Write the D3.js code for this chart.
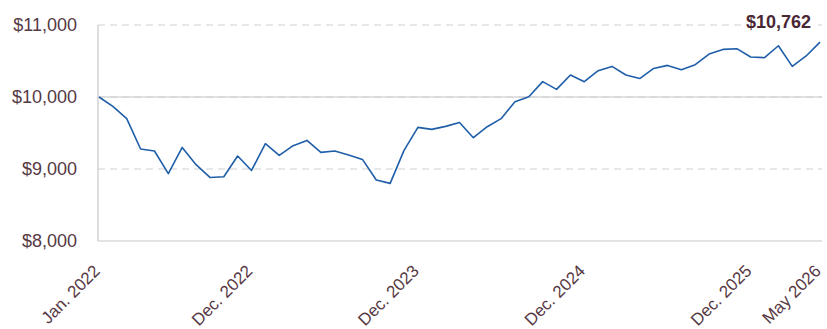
<!DOCTYPE html>
<html>
<head>
<meta charset="utf-8">
<script src="https://cdn.jsdelivr.net/npm/d3@7"></script>
<style>
  html, body { margin: 0; padding: 0; background: #fff; }
  svg { display: block; font-family: "Liberation Sans", Arial, Helvetica, sans-serif; }
</style>
</head>
<body>
<svg id="chart" width="827" height="329"></svg>
<script>
// Growth of $10,000, month-end values from Jan. 2022 to May 2026
const startMonth = new Date(2022, 0, 1);
const values = [
  10000, 9869, 9699, 9278, 9250, 8935, 9300, 9060, 8883, 8893, 9180, 8980,
  9351, 9189, 9324, 9397, 9231, 9250, 9194, 9133, 8847, 8800, 9259, 9578,
  9550, 9592, 9647, 9435, 9587, 9699, 9935, 10004, 10213, 10106, 10306, 10213,
  10365, 10425, 10306, 10256, 10397, 10439, 10379, 10449, 10597, 10661, 10671, 10556,
  10546, 10712, 10425, 10570, 10762
];
const months = values.map((_, i) => d3.timeMonth.offset(startMonth, i));

const xTickIndex = [0, 11, 23, 35, 47, 52];
const xTickLabels = ["Jan. 2022", "Dec. 2022", "Dec. 2023", "Dec. 2024", "Dec. 2025", "May 2026"];
const yTicks = [8000, 9000, 10000, 11000];
const endLabel = "$10,762";

const svg = d3.select("#chart");
const textColor = "#573944";

const x = d3.scaleLinear().domain([0, values.length - 1]).range([99, 820]);
const y = d3.scaleLinear().domain([8000, 11000]).range([241, 25]);
const gridRight = 822;

const fmt = d => "$" + d3.format(",")(d);

// horizontal grid
const grid = svg.append("g");
yTicks.forEach(t => {
  if (t === 8000) {
    grid.append("line").attr("x1", 98).attr("x2", gridRight)
      .attr("y1", y(t)).attr("y2", y(t))
      .attr("stroke", "#c8c8c8").attr("stroke-width", 1.2);
  } else {
    if (t === 10000) {
      grid.append("line").attr("x1", 98).attr("x2", gridRight)
        .attr("y1", y(t)).attr("y2", y(t))
        .attr("stroke", "#e2e2e2").attr("stroke-width", 2.2);
    }
    grid.append("line").attr("x1", 98).attr("x2", gridRight)
      .attr("y1", y(t)).attr("y2", y(t))
      .attr("stroke", "#cfcfcf").attr("stroke-width", 1.2)
      .attr("stroke-dasharray", "7,5");
  }
});

// left axis line
svg.append("line").attr("x1", 98).attr("x2", 98)
  .attr("y1", y(11000)).attr("y2", y(8000))
  .attr("stroke", "#c8c8c8").attr("stroke-width", 1.2);

// y labels
svg.append("g").selectAll("text").data(yTicks).join("text")
  .attr("x", 77).attr("y", d => y(d)).attr("dy", "0.35em")
  .attr("text-anchor", "end")
  .attr("font-size", 18).attr("fill", textColor)
  .text(fmt);

// x labels
svg.append("g").selectAll("text").data(xTickIndex).join("text")
  .attr("transform", d => `translate(${x(d) + 2},272) rotate(-45)`)
  .attr("text-anchor", "end")
  .attr("font-size", 17).attr("fill", textColor)
  .text((d, i) => xTickLabels[i]);

// value line
const line = d3.line().x((d, i) => x(i)).y(d => y(d));
svg.append("path").datum(values)
  .attr("d", line)
  .attr("fill", "none")
  .attr("stroke", "#1f5ea8")
  .attr("stroke-width", 1.6)
  .attr("stroke-linejoin", "round");

// ending value label
const lbl = svg.append("g");
const lblText = lbl.append("text")
  .attr("x", 811).attr("y", 28)
  .attr("text-anchor", "end")
  .attr("font-size", 18).attr("font-weight", "bold")
  .attr("fill", "#4a2735")
  .text(endLabel);
const bb = lblText.node().getBBox();
lbl.insert("rect", "text")
  .attr("x", bb.x - 5).attr("y", bb.y).attr("width", bb.width + 9).attr("height", bb.height)
  .attr("fill", "#fff");
</script>
</body>
</html>
